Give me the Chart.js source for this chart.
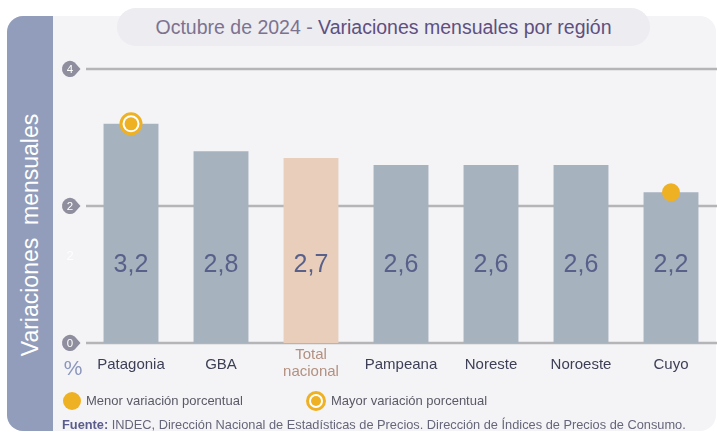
<!DOCTYPE html>
<html><head><meta charset="utf-8">
<script src="https://cdn.jsdelivr.net/npm/chart.js@4.4.1/dist/chart.umd.min.js"></script>
<style>
html,body{margin:0;padding:0;background:#fff;width:717px;height:432px;overflow:hidden;font-family:"Liberation Sans",Arial,sans-serif;}
#panel{position:absolute;left:7px;top:16px;width:709px;height:415px;background:#f4f4f7;border-radius:16px;overflow:hidden;}
#strip{position:absolute;left:0;top:0;width:46px;height:100%;background:#919dba;}
#pill{position:absolute;left:117px;top:8px;width:533px;height:38px;background:#ececf1;border-radius:19px;}
#title{position:absolute;left:117px;top:9px;width:533px;height:37px;line-height:37px;text-align:center;font-size:19.5px;color:#7c7390;white-space:nowrap;}
#title b{font-weight:normal;color:#5e5080;}
#ytitle{position:absolute;left:30px;top:235px;transform:translate(-50%,-50%) rotate(-90deg);color:#fff;font-size:23px;white-space:pre;}
canvas{position:absolute;left:0;top:0;}
.leg{position:absolute;top:393px;font-size:13px;color:#5a5a66;white-space:nowrap;}
.dot{position:absolute;border-radius:50%;}
#foot{position:absolute;left:62px;top:417px;font-size:12.8px;color:#66667a;white-space:nowrap;}
#foot b{color:#5a5c8c;}
</style></head>
<body>
<div id="panel"><div id="strip"></div></div>
<div id="pill"></div>
<div id="title">Octubre de 2024 - <b>Variaciones mensuales por región</b></div>
<div id="ytitle">Variaciones  mensuales</div>
<canvas id="c" width="717" height="432"></canvas>
<div class="dot" style="left:63px;top:392px;width:18px;height:18px;background:#efb124;"></div>
<div class="leg" style="left:86px;">Menor variación porcentual</div>
<div class="dot" style="left:306px;top:391px;width:14px;height:14px;border:3px solid #efb124;background:#fff;"></div>
<div class="dot" style="left:311px;top:396px;width:10px;height:10px;background:#efb124;"></div>
<div class="leg" style="left:331px;">Mayor variación porcentual</div>
<div id="foot"><b>Fuente:</b> INDEC, Dirección Nacional de Estadísticas de Precios. Dirección de Índices de Precios de Consumo.</div>
<script>
const categories = ["Patagonia","GBA","Total nacional","Pampeana","Noreste","Noroeste","Cuyo"];
const values = [3.2, 2.8, 2.7, 2.6, 2.6, 2.6, 2.2];
const valueLabels = ["3,2","2,8","2,7","2,6","2,6","2,6","2,2"];
const yTicks = [0, 2, 4];
const maxMarker = [3.2, null, null, null, null, null, null];
const minMarker = [null, null, null, null, null, null, 2.2];

const barColors = categories.map(c => c === "Total nacional" ? "#e9cebc" : "#a7b2bf");

const deco = {
  id: 'deco',
  beforeDatasetsDraw(chart) {
    const ctx = chart.ctx, y = chart.scales.y, a = chart.chartArea;
    ctx.save();
    yTicks.forEach(t => {
      const py = y.getPixelForValue(t);
      ctx.strokeStyle = '#b5b5b8'; ctx.lineWidth = 2.5;
      ctx.beginPath(); ctx.moveTo(a.left, py); ctx.lineTo(717, py); ctx.stroke();
      ctx.fillStyle = '#8e8e9e';
      ctx.beginPath();
      ctx.arc(70, py, 8, Math.PI*0.3, Math.PI*1.7);
      ctx.lineTo(80.5, py);
      ctx.closePath(); ctx.fill();
      ctx.fillStyle = '#fff'; ctx.font = '11.5px "Liberation Sans", Arial';
      ctx.textAlign = 'center'; ctx.textBaseline = 'middle';
      ctx.fillText(String(t), 70, py + 0.5);
    });
    ctx.restore();
  },
  afterDatasetsDraw(chart) {
    const ctx = chart.ctx, x = chart.scales.x, y = chart.scales.y;
    ctx.save();
    ctx.textAlign = 'center'; ctx.textBaseline = 'middle';
    ctx.font = '25px "Liberation Sans", Arial';
    ctx.fillStyle = '#59608a';
    valueLabels.forEach((v, i) => ctx.fillText(v, x.getPixelForValue(i), y.getPixelForValue(1.14)));
    ctx.font = '15px "Liberation Sans", Arial';
    categories.forEach((c, i) => {
      const px = x.getPixelForValue(i);
      if (c === "Total nacional") {
        ctx.fillStyle = '#b39080';
        ctx.fillText("Total", px, 355);
        ctx.fillText("nacional", px, 372);
      } else {
        ctx.fillStyle = '#3c3f55';
        ctx.fillText(c, px, 365);
      }
    });
    ctx.fillStyle = '#8a96bc'; ctx.font = '21px "Liberation Sans", Arial';
    ctx.fillText('%', 73, 369);
    ctx.fillStyle = 'rgba(255,255,255,0.85)'; ctx.font = '13px "Liberation Sans", Arial';
    ctx.fillText('2', 70, 256);
    ctx.restore();
  }
};

new Chart(document.getElementById('c'), {
  data: {
    labels: categories,
    datasets: [
      { type: 'line', data: maxMarker, showLine: false, pointRadius: 10, pointBorderWidth: 3,
        pointBorderColor: '#efb124', pointBackgroundColor: '#fff', order: 1 },
      { type: 'line', data: maxMarker, showLine: false, pointRadius: 6.5, pointBorderWidth: 0,
        pointBackgroundColor: '#efb124', order: 0 },
      { type: 'line', data: minMarker, showLine: false, pointRadius: 9, pointBorderWidth: 0,
        pointBackgroundColor: '#efb124', order: 0 },
      { type: 'bar', data: values, backgroundColor: barColors, barPercentage: 0.61, categoryPercentage: 1, order: 5 }
    ]
  },
  options: {
    responsive: false, animation: false,
    layout: { autoPadding: false, padding: { left: 86, right: 1, top: 69, bottom: 89 } },
    plugins: { legend: { display: false }, tooltip: { enabled: false } },
    scales: {
      x: { type: 'category', offset: true, display: false },
      y: { min: 0, max: 4, display: false }
    }
  },
  plugins: [deco]
});
</script>
</body></html>
